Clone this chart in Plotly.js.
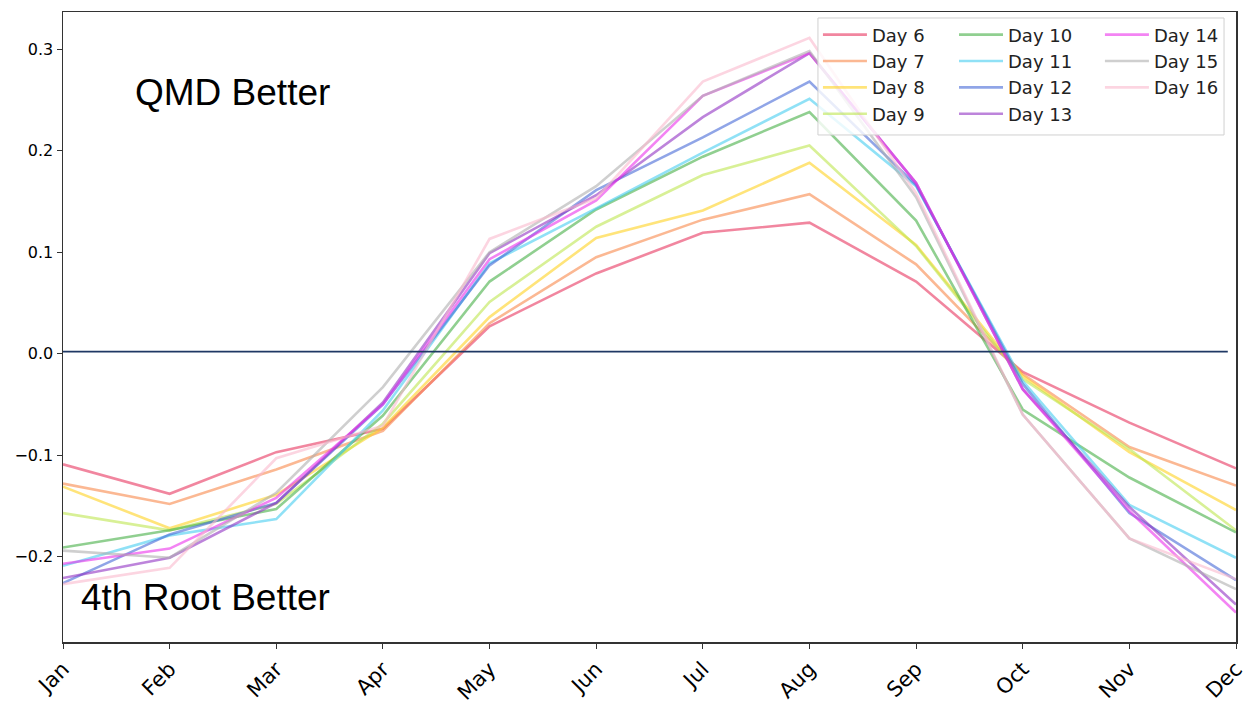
<!DOCTYPE html>
<html>
<head>
<meta charset="utf-8">
<script src="https://cdn.plot.ly/plotly-3.0.1.min.js"></script>
<style>html,body{margin:0;padding:0;background:#fff;}#chart{width:1255px;height:707px;}</style>
</head>
<body>
<div id="chart"></div>
<script>
const months = ["Jan","Feb","Mar","Apr","May","Jun","Jul","Aug","Sep","Oct","Nov","Dec"];
const seriesNames = ["Day 6","Day 7","Day 8","Day 9","Day 10","Day 11","Day 12","Day 13","Day 14","Day 15","Day 16"];
const day6  = [-0.109,-0.138,-0.097,-0.074,0.027,0.079,0.119,0.129,0.071,-0.018,-0.068,-0.113];
const day7  = [-0.128,-0.148,-0.114,-0.076,0.030,0.095,0.132,0.157,0.088,-0.020,-0.092,-0.130];
const day8  = [-0.131,-0.172,-0.139,-0.073,0.036,0.114,0.141,0.188,0.107,-0.022,-0.097,-0.154];
const day9  = [-0.157,-0.174,-0.148,-0.069,0.051,0.125,0.176,0.205,0.106,-0.025,-0.094,-0.174];
const day10 = [-0.191,-0.174,-0.153,-0.061,0.071,0.142,0.194,0.238,0.131,-0.055,-0.122,-0.176];
const day11 = [-0.209,-0.179,-0.163,-0.056,0.089,0.143,0.198,0.251,0.165,-0.027,-0.149,-0.201];
const day12 = [-0.226,-0.178,-0.147,-0.050,0.087,0.161,0.213,0.268,0.166,-0.030,-0.157,-0.223];
const day13 = [-0.221,-0.201,-0.147,-0.048,0.099,0.156,0.233,0.296,0.168,-0.035,-0.151,-0.247];
const day14 = [-0.207,-0.192,-0.142,-0.050,0.093,0.151,0.254,0.296,0.168,-0.035,-0.155,-0.255];
const day15 = [-0.194,-0.201,-0.137,-0.033,0.100,0.165,0.254,0.298,0.154,-0.060,-0.182,-0.232];
const day16 = [-0.227,-0.211,-0.103,-0.071,0.113,0.153,0.268,0.311,0.158,-0.060,-0.182,-0.222];
const seriesValues = [day6,day7,day8,day9,day10,day11,day12,day13,day14,day15,day16];
const yTicks = [-0.2,-0.1,0.0,0.1,0.2,0.3];
const referenceLevel = 0.002;

const colors = [
  "rgba(232,60,100,0.62)",
  "rgba(248,140,80,0.62)",
  "rgba(255,212,40,0.62)",
  "rgba(190,230,80,0.6)",
  "rgba(70,175,70,0.6)",
  "rgba(70,205,240,0.6)",
  "rgba(70,105,215,0.6)",
  "rgba(145,50,195,0.6)",
  "rgba(235,50,235,0.6)",
  "rgba(175,175,175,0.6)",
  "rgba(250,185,205,0.6)"
];
const legendIds = ["legend","legend","legend","legend","legend2","legend2","legend2","legend2","legend3","legend3","legend3"];

const traces = seriesValues.map((vals, i) => ({
  type: "scatter",
  mode: "lines",
  x: months,
  y: vals,
  name: seriesNames[i],
  line: {color: colors[i], width: 2.6},
  legend: legendIds[i]
}));

const legendFont = {family: "DejaVu Sans", size: 18, color: "#222"};
const legBase = {bgcolor: "rgba(0,0,0,0)", borderwidth: 0, font: legendFont, yanchor: "top", xanchor: "left", y: 0.993, tracegroupgap: 0, itemwidth: 44};

const layout = {
  width: 1255, height: 707,
  margin: {l: 63, r: 19, t: 12, b: 65},
  paper_bgcolor: "#fff", plot_bgcolor: "#fff",
  showlegend: true,
  xaxis: {
    type: "category", range: [0, 11],
    showgrid: false, zeroline: false,
    showline: true, mirror: true, linecolor: "#333", linewidth: 1.5,
    ticks: "outside", ticklen: 5, tickcolor: "#333",
    tickangle: -45,
    tickfont: {family: "DejaVu Sans", size: 21, color: "#000"}
  },
  yaxis: {
    range: [-0.284, 0.3365],
    tickvals: yTicks, tickformat: ".1f",
    showgrid: false, zeroline: false,
    showline: true, mirror: true, linecolor: "#333", linewidth: 1.5,
    ticks: "outside", ticklen: 5, tickcolor: "#333",
    tickfont: {family: "DejaVu Sans", size: 16, color: "#000"}
  },
  legend: Object.assign({}, legBase, {x: 0.6436}),
  legend2: Object.assign({}, legBase, {x: 0.7596}),
  legend3: Object.assign({}, legBase, {x: 0.884}),
  shapes: [
    {type: "line", xref: "paper", yref: "y", x0: 0, x1: 0.993, y0: referenceLevel, y1: referenceLevel,
     line: {color: "#1f3864", width: 1.6}, layer: "above"},
    {type: "rect", xref: "paper", yref: "paper", x0: 0.6436, x1: 0.9898, y0: 0.8048, y1: 0.9905,
     fillcolor: "rgba(255,255,255,0.8)", line: {color: "#d0d0d0", width: 1}, layer: "above"}
  ],
  annotations: [
    {text: "QMD Better", xref: "paper", yref: "paper", x: (232-63)/1173, y: 1-(93-12)/630,
     showarrow: false, xanchor: "center", yanchor: "middle",
     font: {family: "Liberation Sans", size: 37, color: "#000"}},
    {text: "4th Root Better", xref: "paper", yref: "paper", x: (205-63)/1173, y: 1-(597-12)/630,
     showarrow: false, xanchor: "center", yanchor: "middle",
     font: {family: "Liberation Sans", size: 37, color: "#000"}}
  ]
};

Plotly.newPlot("chart", traces, layout, {displayModeBar: false, staticPlot: true});
</script>
</body>
</html>
